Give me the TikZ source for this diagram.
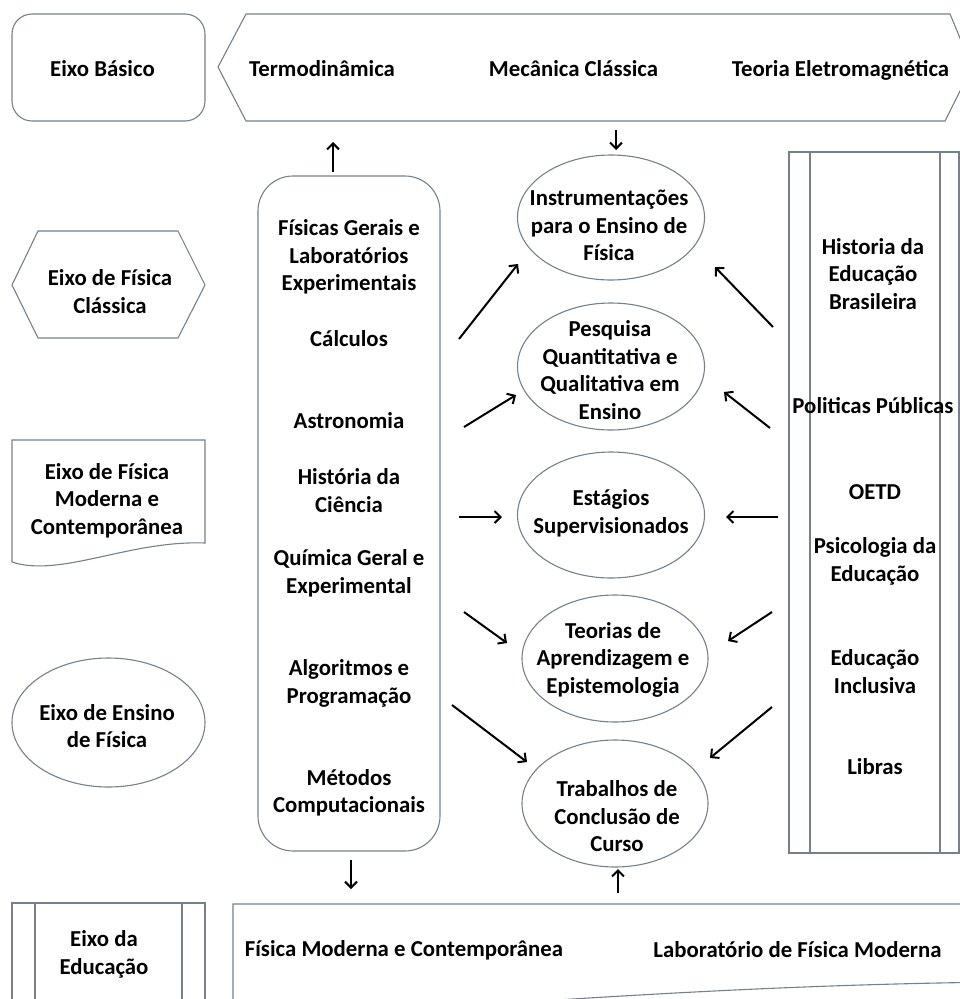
\documentclass[tikz,border=0pt]{standalone}
\usepackage{fontspec}
\setmainfont{Carlito}
\usetikzlibrary{arrows.meta,shapes.geometric}
\definecolor{edgegray}{RGB}{118,128,140}
\tikzset{
  shp/.style={draw=edgegray, line width=1.1pt},
  lbl/.style={font=\fontsize{22.8}{27.5}\selectfont\bfseries, align=center, inner sep=0pt, text=black},
  arr/.style={line width=2pt, -{Straight Barb[length=6pt,width=12pt]}},
}
\begin{document}
\begin{tikzpicture}[x=1pt,y=-1pt]
\useasboundingbox (0,0) rectangle (960,999);
\clip (0,0) rectangle (960,999);

% ---------- shapes ----------
% Eixo Basico
\draw[shp, rounded corners=20pt] (12,14) rectangle (205,121);
% top banner
\draw[shp] (246,14) -- (950,14) -- (972,67) -- (945,121) -- (246,121) -- (218,67) -- cycle;
% hexagon
\draw[shp] (12,285) -- (38,231) -- (178,231) -- (205,285) -- (178,338) -- (38,338) -- cycle;
% document shape
\draw[shp] (12,562) -- (12,440) -- (205,440) -- (205,543) .. controls (130,540) and (60,578) .. (12,562);
% ellipse axis
\draw[shp] (108.5,722.5) ellipse [x radius=96.5, y radius=64.5];
% Eixo da Educacao (predefined process)
\draw[shp] (12,903) rectangle (205,1010);
\draw[shp] (35,903) -- (35,1010);
\draw[shp] (182,903) -- (182,1010);
% central rounded box
\draw[shp, rounded corners=35pt] (258,176) rectangle (440,851);
% ellipses
\draw[shp] (611,217.5) ellipse [x radius=93.5, y radius=62.5];
\draw[shp] (611,366.5) ellipse [x radius=93.5, y radius=63.5];
\draw[shp] (611,515) ellipse [x radius=93.5, y radius=63];
\draw[shp] (615,658.5) ellipse [x radius=93, y radius=63.5];
\draw[shp] (615,803.5) ellipse [x radius=93, y radius=63.5];
% right panel (predefined process)
\draw[shp] (789,152) rectangle (959,853);
\draw[shp] (810,152) -- (810,853);
\draw[shp] (940,152) -- (940,853);
% bottom banner (document, cut off)
\draw[shp] (233,1025) -- (233,904) -- (1000,904) -- (1000,982) .. controls (750,985) and (550,1000) .. (233,1022);

% ---------- texts ----------
\node[lbl] (basico) at (102.5,69) {Eixo Básico};
\node[lbl] (termo) at (322,69) {Termodinâmica};
\node[lbl] (mecanica) at (573.5,69) {Mecânica Clássica};
\node[lbl] (teoria) at (840.5,70) {Teoria Eletromagnética};

\node[lbl] (classica) at (110,291.5) {Eixo de Física\\Clássica};
\node[lbl] (moderna) at (107,500.5) {Eixo de Física\\Moderna e\\Contemporânea};
\node[lbl] (ensino) at (107,726) {Eixo de Ensino\\de Física};
\node[lbl] (educ) at (104,954.5) {Eixo da\\Educação};

\node[lbl] (fisgerais) at (349,257) {Físicas Gerais e\\Laboratórios\\Experimentais};
\node[lbl] (calculos) at (349,339) {Cálculos};
\node[lbl] (astro) at (349,421) {Astronomia};
\node[lbl] (histcien) at (349,490.5) {História da\\Ciência};
\node[lbl] (quimica) at (349,573.5) {Química Geral e\\Experimental};
\node[lbl] (algo) at (349,683.5) {Algoritmos e\\Programação};
\node[lbl] (metodos) at (349,793) {Métodos\\Computacionais};

\node[lbl] (instr) at (609,225.5) {Instrumentações\\para o Ensino de\\Física};
\node[lbl] (pesq) at (610,370) {Pesquisa\\Quantitativa e\\Qualitativa em\\Ensino};
\node[lbl] (estag) at (611,513.5) {Estágios\\Supervisionados};
\node[lbl] (teorias) at (613,659.5) {Teorias de\\Aprendizagem e\\Epistemologia};
\node[lbl] (tcc) at (617,816.5) {Trabalhos de\\Conclusão de\\Curso};

\node[lbl] (histedu) at (873,274) {Historia da\\Educação\\Brasileira};
\node[lbl] (politicas) at (873,406) {Politicas Públicas};
\node[lbl] (oetd) at (875,492) {OETD};
\node[lbl] (psico) at (875,561.5) {Psicologia da\\Educação};
\node[lbl] (inclus) at (875,671.5) {Educação\\Inclusiva};
\node[lbl] (libras) at (875,767) {Libras};

\node[lbl] (fmc) at (404,950) {Física Moderna e Contemporânea};
\node[lbl] (labfm) at (797.5,950) {Laboratório de Física Moderna};

% ---------- arrow end points ----------
\coordinate (u1a) at (333,172); \coordinate (u1b) at (333,142);
\coordinate (d1a) at (616,130); \coordinate (d1b) at (616,150);
\coordinate (d2a) at (351,860); \coordinate (d2b) at (351,889);
\coordinate (u2a) at (618,893); \coordinate (u2b) at (618,869);
\coordinate (l1a) at (459,339); \coordinate (l1b) at (518,264);
\coordinate (l2a) at (464,427); \coordinate (l2b) at (516,395);
\coordinate (l3a) at (459,517); \coordinate (l3b) at (502,517);
\coordinate (l4a) at (464,612); \coordinate (l4b) at (507,643);
\coordinate (l5a) at (452,705); \coordinate (l5b) at (527,762);
\coordinate (r1a) at (773,327); \coordinate (r1b) at (715,267);
\coordinate (r2a) at (770,428); \coordinate (r2b) at (724,392);
\coordinate (r3a) at (778,517); \coordinate (r3b) at (726,517);
\coordinate (r4a) at (772,612); \coordinate (r4b) at (728,641);
\coordinate (r5a) at (772,707); \coordinate (r5b) at (710,758);

\draw[arr] (u1a) -- (u1b);
\draw[arr] (d1a) -- (d1b);
\draw[arr] (d2a) -- (d2b);
\draw[arr] (u2a) -- (u2b);
\draw[arr] (l1a) -- (l1b);
\draw[arr] (l2a) -- (l2b);
\draw[arr] (l3a) -- (l3b);
\draw[arr] (l4a) -- (l4b);
\draw[arr] (l5a) -- (l5b);
\draw[arr] (r1a) -- (r1b);
\draw[arr] (r2a) -- (r2b);
\draw[arr] (r3a) -- (r3b);
\draw[arr] (r4a) -- (r4b);
\draw[arr] (r5a) -- (r5b);
\end{tikzpicture}
\end{document}
